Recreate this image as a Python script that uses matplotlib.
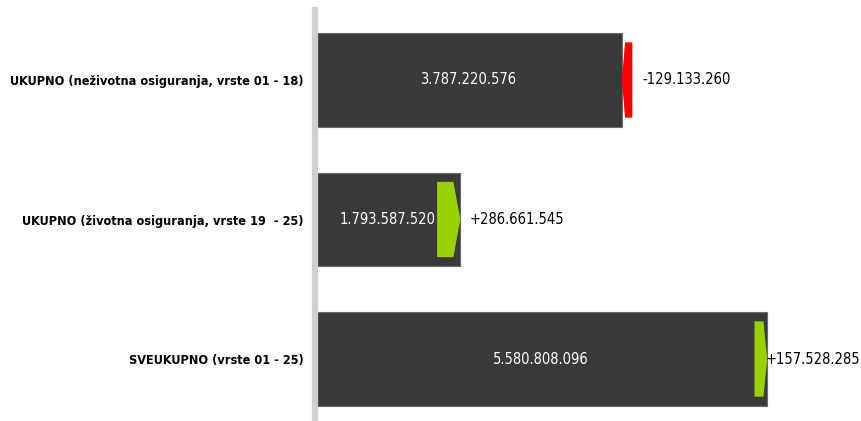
import matplotlib
matplotlib.use("Agg")
import matplotlib.pyplot as plt
from matplotlib.patches import Polygon

categories = [
    "UKUPNO (neživotna osiguranja, vrste 01 - 18)",
    "UKUPNO (životna osiguranja, vrste 19  - 25)",
    "SVEUKUPNO (vrste 01 - 25)",
]
current = [3787220576, 1793587520, 5580808096]
change = [-129133260, 286661545, 157528285]


def fmt(v, sign=False):
    s = f"{abs(v):,}".replace(",", ".")
    if sign:
        s = ("+" if v >= 0 else "-") + s
    return s


plt.rcParams['font.family'] = ['DejaVu Sans']
plt.rcParams['font.stretch'] = 'condensed'

fig = plt.figure(figsize=(8.62, 4.21), dpi=100)
ax = fig.add_axes([315 / 862, 0, 1 - 315 / 862, 1 - 10 / 421])

ypos = list(range(len(categories)))
bar_h = 0.667
ind_h = 0.54

ax.barh(ypos, current, height=bar_h, color="#3a3a3a", edgecolor="#6a6a6a",
        linewidth=0.8, zorder=2)

for y, cur, ch in zip(ypos, current, change):
    prev = cur - ch
    w = abs(ch)
    tip = 0.3 * w
    t, b = y - ind_h / 2, y + ind_h / 2
    if ch >= 0:
        pts = [(prev, t), (cur - tip, t), (cur, y), (cur - tip, b), (prev, b)]
        col = "#99d100"
    else:
        pts = [(cur + tip, t), (prev, t), (prev, b), (cur + tip, b), (cur, y)]
        col = "#ff0000"
    ax.add_patch(Polygon(pts, closed=True, facecolor=col, edgecolor="none", zorder=3))
    ax.text(cur / 2, y, fmt(cur), color="white", fontsize=10.5,
            ha="center", va="center", zorder=4)
    end = max(cur, prev)
    ax.annotate(fmt(ch, sign=True), xy=(end, y), xytext=(7, 0),
                textcoords="offset points", ha="left", va="center",
                fontsize=10.5, color="black", zorder=4)

ax.set_xlim(0, 6.75e9)
ax.set_ylim(2 + (421 - 359) / 139.5, -70 / 139.5)
ax.set_yticks(ypos)
ax.set_yticklabels(categories, fontsize=11, fontweight="bold")
ax.tick_params(axis="y", length=0, pad=8)
ax.set_xticks([])
for s in ["top", "right", "bottom"]:
    ax.spines[s].set_visible(False)
ax.spines["left"].set_color("#d0d0d0")
ax.spines["left"].set_linewidth(4.5)

fig.canvas.draw()
r = fig.canvas.get_renderer()
# shrink the category labels so the longest one fits left of the axis
widest = max(lb.get_window_extent(r).width for lb in ax.get_yticklabels())
size = 11 * 293 / widest
for lb in ax.get_yticklabels():
    lb.set_fontsize(size)
# keep the last change label inside the picture
for t in ax.texts:
    bb = t.get_window_extent(r)
    if bb.x1 > 860 and hasattr(t, "xyann"):
        ox, oy = t.xyann
        t.xyann = (ox - (bb.x1 - 860) * 72 / 100, oy)

fig.savefig("out.png", dpi=100)
